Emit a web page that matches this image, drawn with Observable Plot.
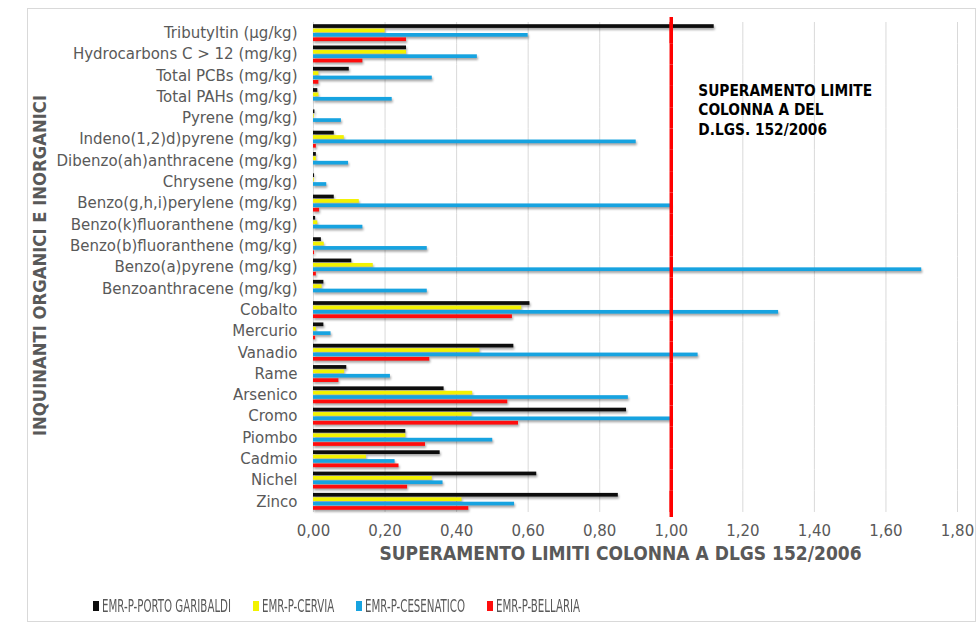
<!DOCTYPE html>
<html><head><meta charset="utf-8">
<script src="https://cdn.jsdelivr.net/npm/d3@7"></script>
<script src="https://cdn.jsdelivr.net/npm/@observablehq/plot@0.6"></script>
<style>
body{margin:0;background:#fff;}
#wrap{position:relative;width:979px;height:627px;overflow:hidden;font-family:"DejaVu Sans",sans-serif;}
#frame{position:absolute;left:27px;top:8px;width:949px;height:614px;border:1px solid #d9d9d9;box-sizing:border-box;}
#chart{position:absolute;left:0;top:0;}
#chart g[aria-label="bar"] rect{filter:drop-shadow(1.5px 2px 1.2px rgba(0,0,0,0.35));}
#legend{position:absolute;top:595px;left:0;width:979px;height:22px;}
.item{position:absolute;top:0;height:22px;display:flex;align-items:center;white-space:nowrap;}
.sw{width:6px;height:10px;margin-right:3px;flex:none;}
.lab{font-family:"DejaVu Sans Condensed","DejaVu Sans",sans-serif;font-size:17.5px;color:#595959;transform:scaleX(0.65);transform-origin:left center;}
</style>
</head><body>
<div id="wrap">
  <div id="frame"></div>
  <div id="chart"></div>
  <div id="legend"></div>
</div>
<script>
const categories = [
  "Tributyltin (µg/kg)",
  "Hydrocarbons C > 12 (mg/kg)",
  "Total PCBs (mg/kg)",
  "Total PAHs (mg/kg)",
  "Pyrene (mg/kg)",
  "Indeno(1,2)d)pyrene (mg/kg)",
  "Dibenzo(ah)anthracene (mg/kg)",
  "Chrysene (mg/kg)",
  "Benzo(g,h,i)perylene (mg/kg)",
  "Benzo(k)fluoranthene (mg/kg)",
  "Benzo(b)fluoranthene (mg/kg)",
  "Benzo(a)pyrene (mg/kg)",
  "Benzoanthracene (mg/kg)",
  "Cobalto",
  "Mercurio",
  "Vanadio",
  "Rame",
  "Arsenico",
  "Cromo",
  "Piombo",
  "Cadmio",
  "Nichel",
  "Zinco"
];
const series = ["EMR-P-PORTO GARIBALDI", "EMR-P-CERVIA", "EMR-P-CESENATICO", "EMR-P-BELLARIA"];
const colors = ["#0d0d0d", "#f2f200", "#17a3e0", "#ff0d0d"];

const portoGaribaldi = [1.12, 0.26, 0.10, 0.012, 0.004, 0.058, 0.008, 0.003, 0.058, 0.006, 0.022, 0.107, 0.029, 0.605, 0.029, 0.560, 0.093, 0.365, 0.875, 0.258, 0.354, 0.624, 0.852];
const cervia         = [0.20, 0.26, 0.015, 0.015, 0.002, 0.086, 0.008, 0.002, 0.128, 0.012, 0.030, 0.167, 0.024, 0.582, 0.008, 0.465, 0.087, 0.445, 0.443, 0.258, 0.148, 0.332, 0.415];
const cesenatico     = [0.60, 0.458, 0.332, 0.22, 0.078, 0.902, 0.098, 0.037, 1.00, 0.138, 0.318, 1.70, 0.318, 1.30, 0.049, 1.075, 0.215, 0.88, 1.00, 0.501, 0.228, 0.362, 0.562];
const bellaria       = [0.26, 0.138, 0.015, 0, 0, 0.008, 0, 0, 0.017, 0, 0.003, 0.008, 0, 0.556, 0.006, 0.325, 0.071, 0.543, 0.573, 0.313, 0.239, 0.263, 0.434];

const xTicks = [0, 0.2, 0.4, 0.6, 0.8, 1.0, 1.2, 1.4, 1.6, 1.8];
const limit = 1;
const annotation = "SUPERAMENTO LIMITE\nCOLONNA A DEL\nD.LGS. 152/2006";
const xTitle = "SUPERAMENTO LIMITI COLONNA A DLGS 152/2006";
const yTitle = "INQUINANTI ORGANICI E INORGANICI";

const valuesBySeries = [portoGaribaldi, cervia, cesenatico, bellaria];
const data = categories.flatMap((c, i) => series.map((s, j) => ({category: c, series: s, value: valuesBySeries[j][i]})));

const gray = "#595959";
const condensed = "DejaVu Sans Condensed, DejaVu Sans, sans-serif";
const chart = Plot.plot({
  width: 979,
  height: 565,
  marginLeft: 313,
  marginRight: 22,
  marginTop: 22,
  marginBottom: 53,
  style: {fontFamily: "DejaVu Sans, sans-serif", fontSize: "15px", color: gray, background: "transparent", overflow: "visible"},
  x: {domain: [0, 1.8], ticks: xTicks, tickFormat: d => d.toFixed(2).replace(".", ","), tickSize: 0, tickPadding: 13, label: null},
  y: {domain: series, axis: null, paddingInner: 0.16, paddingOuter: 0.5, round: false},
  fy: {domain: categories, padding: 0, round: false, axis: "left", tickSize: 0, tickPadding: 16, label: null},
  color: {domain: series, range: colors},
  marks: [
    Plot.ruleX(xTicks, {stroke: "#d9d9d9", strokeWidth: 1}),
    Plot.barX(data, {fy: "category", y: "series", x: "value", fill: "series", inset: 0}),
    Plot.ruleX([limit], {stroke: "#ff0000", strokeWidth: 3.5}),
    Plot.ruleX([limit], {fy: [categories[0]], stroke: "#ff0000", strokeWidth: 3.5, insetTop: -5}),
    Plot.ruleX([limit], {fy: [categories[categories.length - 1]], stroke: "#ff0000", strokeWidth: 3.5, insetBottom: -5}),
    Plot.text([annotation], {fy: [categories[3]], x: [limit], dx: 27, dy: -5, frameAnchor: "top", lineAnchor: "top", textAnchor: "start", lineHeight: 1.3, fontWeight: "bold", fontSize: 15.3, fontFamily: condensed, fill: "#000"}),
    Plot.text([yTitle], {fy: [categories[11]], frameAnchor: "left", textAnchor: "middle", lineAnchor: "middle", dx: -273, dy: -2, rotate: -90, fontWeight: "bold", fontSize: 18.3, fontFamily: condensed, fill: gray}),
    Plot.text([xTitle], {fy: [categories[categories.length - 1]], frameAnchor: "bottom", lineAnchor: "middle", textAnchor: "middle", dy: 41, dx: -15, fontWeight: "bold", fontSize: 19, fontFamily: condensed, fill: gray})
  ]
});
document.getElementById("chart").appendChild(chart);

const legendLefts = [93, 253, 356, 487];
const legend = document.getElementById("legend");
series.forEach((s, i) => {
  const item = document.createElement("div");
  item.className = "item";
  item.style.left = legendLefts[i] + "px";
  const sw = document.createElement("span");
  sw.className = "sw";
  sw.style.background = colors[i];
  const lab = document.createElement("span");
  lab.className = "lab";
  lab.textContent = s;
  item.appendChild(sw);
  item.appendChild(lab);
  legend.appendChild(item);
});
</script>
</body></html>
